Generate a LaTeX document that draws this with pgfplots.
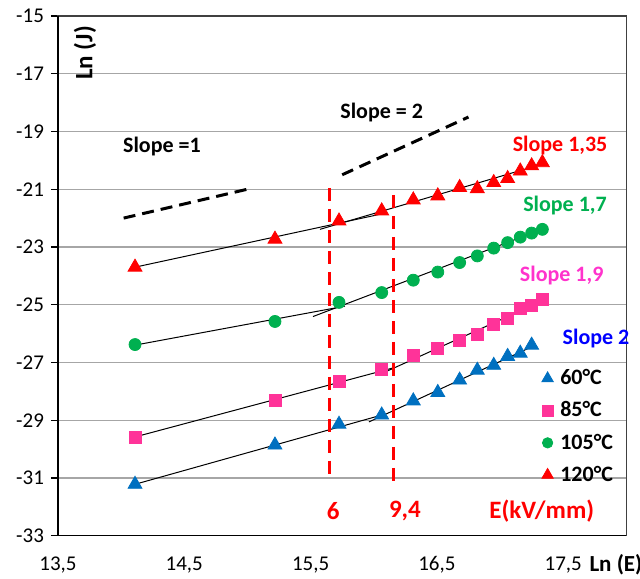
\documentclass[border=0pt]{standalone}
\usepackage{fontspec}
\setmainfont{Carlito}
\usepackage{pgfplots}
\pgfplotsset{compat=1.18}
\definecolor{cblue}{HTML}{0070C0}
\definecolor{cpink}{HTML}{FF3399}
\definecolor{cgreen}{HTML}{00B050}
\definecolor{cred}{HTML}{FF0000}
\definecolor{cmag}{HTML}{FF33CC}
\definecolor{cblu2}{HTML}{0000FF}
\begin{document}
\begin{tikzpicture}
\begin{axis}[
  scale only axis, width=284.25pt, height=259.9pt,
  xmin=13.5, xmax=18, ymin=-33, ymax=-15,
  xtick={13.5,14.5,15.5,16.5,17.5},
  xticklabels={{13,5},{14,5},{15,5},{16,5},{17,5}},
  ytick={-33,-31,-29,-27,-25,-23,-21,-19,-17,-15},
  yticklabels={-33,-31,-29,-27,-25,-23,-21,-19,-17,-15},
  ymajorgrids, grid style={black!35, line width=0.6pt},
  tick pos=left, tick align=outside, major tick length=3.5pt,
  xtick style={draw=none}, ytick style={black, line width=0.6pt},
  axis line style={black!75, line width=0.6pt},
  tick label style={font=\fontsize{10.5}{12}\selectfont},
  xticklabel style={yshift=-3.5pt},
  clip=false,
  legend cell align=left,
  legend style={at={(axis cs:17.328,-27.17)}, anchor=north west, draw=none, fill=none,
    inner sep=0pt, row sep=5.4pt, font=\bfseries\fontsize{11}{13}\selectfont,
    nodes={text height=7.5pt, text depth=1.2pt, inner sep=1pt},
    /tikz/every odd column/.append style={column sep=2.5pt}},
  legend image code/.code={\draw[mark repeat=2,mark phase=2,#1] plot coordinates {(0cm,0cm)(0.15cm,0cm)(0.3cm,0cm)};},
]
\coordinate (bbA) at (axis cs:13.041,-14.446);
\coordinate (bbB) at (axis cs:18.108,-34.498);
\draw[black, line width=0.8pt] (rel axis cs:0,1) -- (rel axis cs:0,0) -- (rel axis cs:1,0);

% regression lines
\addplot[black, line width=0.5pt, forget plot] coordinates {(14.11,-23.70) (16.09,-21.83)};
\addplot[black, line width=0.5pt, forget plot] coordinates {(15.574,-22.39) (17.334,-20.13)};
\addplot[black, line width=0.5pt, forget plot] coordinates {(14.11,-26.40) (15.772,-25.05)};
\addplot[black, line width=0.5pt, forget plot] coordinates {(15.519,-25.41) (17.334,-22.385)};
\addplot[black, line width=0.5pt, forget plot] coordinates {(14.11,-29.58) (16.17,-27.17)};
\addplot[black, line width=0.5pt, forget plot] coordinates {(16.07,-27.37) (17.334,-24.87)};
\addplot[black, line width=0.5pt, forget plot] coordinates {(14.11,-31.22) (16.089,-28.79)};
\addplot[black, line width=0.5pt, forget plot] coordinates {(15.962,-29.06) (17.255,-26.45)};

% reference slopes
\addplot[black, line width=1.5pt, dash pattern=on 6pt off 3.5pt, forget plot] coordinates {(14.02,-22) (15,-21)};
\addplot[black, line width=1.5pt, dash pattern=on 6pt off 3.5pt, forget plot] coordinates {(15.75,-20.5) (16.75,-18.5)};

% vertical red dashed
\addplot[cred, line width=1.5pt, dash pattern=on 6.5pt off 4pt, forget plot] coordinates {(15.648,-20.95) (15.648,-31.1)};
\addplot[cred, line width=1.5pt, dash pattern=on 6.5pt off 4pt, forget plot] coordinates {(16.16,-21.2) (16.16,-31.3)};

% data
\addplot[only marks, mark=triangle*, mark size=4pt, color=cblue, legend image post style={mark size=3.3pt}] coordinates {
(14.11,-31.22) (15.218,-29.86) (15.725,-29.14) (16.063,-28.82) (16.313,-28.33) (16.507,-28.04)
(16.68,-27.61) (16.82,-27.27) (16.95,-27.10) (17.06,-26.79) (17.16,-26.68) (17.25,-26.40)};
\addlegendentry{60°C}
\addplot[only marks, mark=square*, mark size=3pt, color=cpink, legend image post style={mark size=2.8pt}] coordinates {
(14.11,-29.58) (15.218,-28.33) (15.725,-27.64) (16.063,-27.23) (16.313,-26.77) (16.507,-26.51)
(16.68,-26.22) (16.82,-26.03) (16.95,-25.68) (17.06,-25.47) (17.16,-25.13) (17.25,-25.01) (17.335,-24.83)};
\addlegendentry{85°C}
\addplot[only marks, mark=*, mark size=3pt, color=cgreen, legend image post style={mark size=2.6pt}] coordinates {
(14.11,-26.38) (15.218,-25.58) (15.725,-24.92) (16.063,-24.58) (16.313,-24.15) (16.507,-23.87)
(16.68,-23.54) (16.82,-23.31) (16.95,-23.04) (17.06,-22.85) (17.16,-22.66) (17.25,-22.52) (17.335,-22.39)};
\addlegendentry{105°C}
\addplot[only marks, mark=triangle*, mark size=4pt, color=cred, legend image post style={mark size=3.3pt}] coordinates {
(14.11,-23.70) (15.218,-22.73) (15.725,-22.10) (16.063,-21.75) (16.313,-21.37) (16.507,-21.23)
(16.68,-20.94) (16.82,-20.98) (16.95,-20.77) (17.06,-20.63) (17.16,-20.37) (17.25,-20.19) (17.335,-20.08)};
\addlegendentry{120°C}

% text
\node[rotate=90, font=\bfseries\fontsize{12.5}{14}\selectfont] at (axis cs:13.714,-16.28) {Ln (J)};
\node[font=\bfseries\fontsize{11}{13}\selectfont] at (axis cs:14.323,-19.51) {Slope =1};
\node[font=\bfseries\fontsize{11}{13}\selectfont] at (axis cs:16.063,-18.34) {Slope = 2};
\node[font=\bfseries\fontsize{11}{13}\selectfont, text=cred] at (axis cs:17.475,-19.50) {Slope 1,35};
\node[font=\bfseries\fontsize{11}{13}\selectfont, text=cgreen] at (axis cs:17.514,-21.58) {Slope 1,7};
\node[font=\bfseries\fontsize{11}{13}\selectfont, text=cmag] at (axis cs:17.488,-24.0) {Slope 1,9};
\node[font=\bfseries\fontsize{11}{13}\selectfont, text=cblu2] at (axis cs:17.76,-26.17) {Slope 2};
\node[font=\bfseries\fontsize{12.5}{14}\selectfont, text=cred] at (axis cs:15.68,-32.14) {6};
\node[font=\bfseries\fontsize{12.5}{14}\selectfont, text=cred] at (axis cs:16.247,-32.14) {9,4};
\node[font=\bfseries\fontsize{12.5}{14}\selectfont, text=cred] at (axis cs:17.33,-32.14) {E(kV/mm)};
\node[font=\bfseries\fontsize{11.5}{13}\selectfont, anchor=west, inner sep=0pt] at (axis cs:17.705,-34.0) {Ln (E)};
\end{axis}
\pgfresetboundingbox
\path[use as bounding box] (bbA) rectangle (bbB);
\end{tikzpicture}
\end{document}
